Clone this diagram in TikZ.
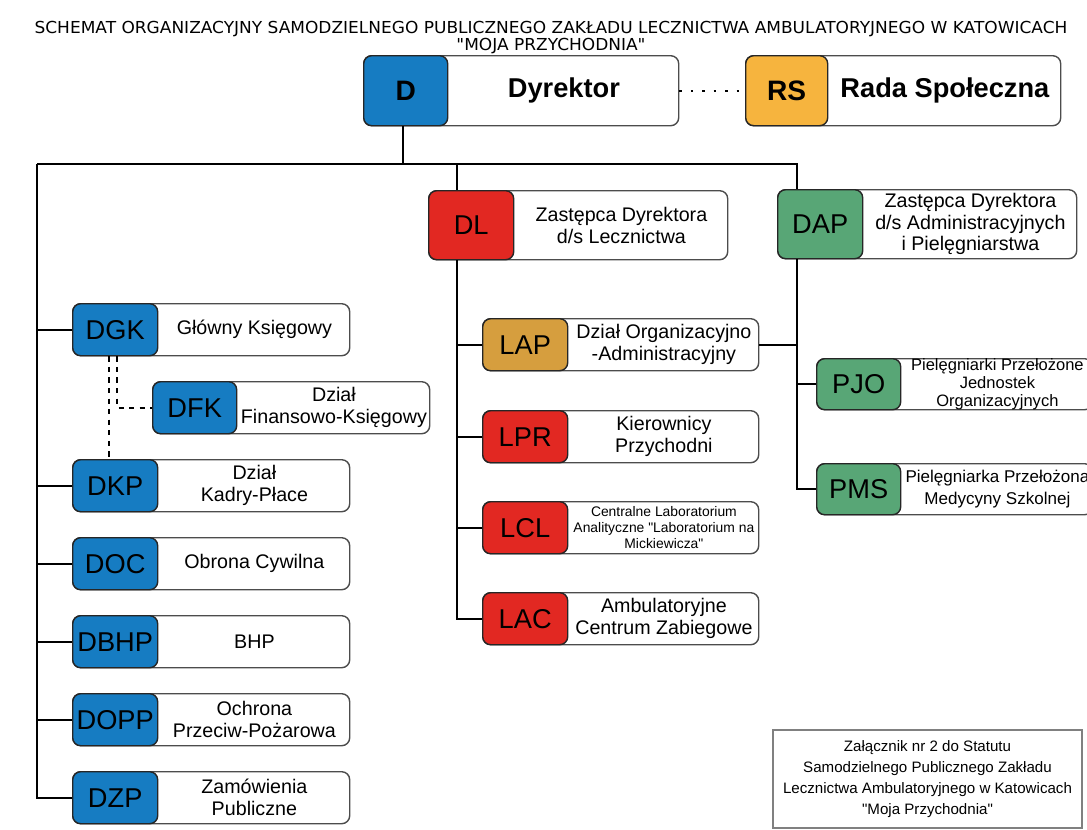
\documentclass[tikz,border=0pt]{standalone}
\usepackage{fontspec}
\setmainfont{Liberation Sans}
\newfontfamily\titlefont{DejaVu Sans}
\usetikzlibrary{calc}
\definecolor{dirblue}{RGB}{22,124,194}
\definecolor{medred}{RGB}{226,40,34}
\definecolor{admtan}{RGB}{214,158,62}
\definecolor{rsorange}{RGB}{246,180,62}
\definecolor{nursegreen}{RGB}{88,166,118}
\newcommand\pxu{0.02cm}
\newcommand\codefont{\fontsize{15.5}{16}\selectfont}
\newcommand\txtfont{\fontsize{11.2}{12.4}\selectfont}
\newcommand\headfont{\fontsize{15.5}{17}\selectfont\bfseries}
\tikzset{
  unitbox/.style={anchor=north west, draw=black!70, fill=white, rounded corners=0.16cm, line width=0.8pt, inner sep=0pt},
  codebox/.style={anchor=north west, draw=black!85, rounded corners=0.16cm, line width=0.8pt, inner sep=0pt, font=\codefont},
  txt/.style={align=center, inner sep=0pt},
  link/.style={line width=1.1pt},
  aside/.style={line width=1pt, dash pattern=on 3pt off 3pt},
}
% name, top-left, width, height, code width, colour, code, text font, text
\newcommand\orgunit[9]{%
  \node[unitbox, minimum width=#3*\pxu, minimum height=#4*\pxu] (#1) at #2 {};
  \node[codebox, fill=#6, minimum width=#5*\pxu, minimum height=#4*\pxu] (#1-c) at (#1.north west) {#7};
  \node[txt, font=#8] (#1-t) at ($(#1-c.east)!.5!(#1.east)$) {#9};}
\begin{document}
\begin{tikzpicture}[x=0.02cm, y=-0.02cm]
\useasboundingbox (0,0) rectangle (1087,829);
\node[inner sep=0pt] (title) at (551,38) {\resizebox{20.66cm}{\height}{\titlefont\fontsize{9.4}{9}\selectfont
  \begin{tabular}{@{}c@{}}SCHEMAT ORGANIZACYJNY SAMODZIELNEGO PUBLICZNEGO ZAKŁADU LECZNICTWA AMBULATORYJNEGO W KATOWICACH\\\textquotedbl MOJA PRZYCHODNIA\textquotedbl\end{tabular}}};
%
\orgunit{d}{(363,55)}{315}{70}{84}{dirblue}{\fontsize{16}{17}\selectfont\bfseries D}{\headfont}{Dyrektor}
\orgunit{rs}{(745,55)}{315}{70}{82}{rsorange}{\fontsize{16}{17}\selectfont\bfseries RS}{\headfont}{Rada Społeczna}
\orgunit{dl}{(428,190)}{299}{69}{85}{medred}{DL}{\txtfont}{Zastępca Dyrektora\\d/s Lecznictwa}
\orgunit{dap}{(777,189)}{299}{69}{85}{nursegreen}{DAP}{\fontsize{11.2}{12.2}\selectfont}{Zastępca Dyrektora\\d/s Administracyjnych\\i Pielęgniarstwa}
%
\orgunit{dgk}{(72,303)}{277}{52}{85}{dirblue}{DGK}{\txtfont}{Główny Księgowy}
\orgunit{dfk}{(152,381)}{277}{52}{84}{dirblue}{DFK}{\txtfont}{Dział\\Finansowo-Księgowy}
\orgunit{dkp}{(72,459)}{277}{52}{85}{dirblue}{DKP}{\txtfont}{Dział\\Kadry-Płace}
\orgunit{doc}{(72,537)}{277}{52}{85}{dirblue}{DOC}{\txtfont}{Obrona Cywilna}
\orgunit{dbhp}{(72,615)}{277}{52}{85}{dirblue}{DBHP}{\txtfont}{BHP}
\orgunit{dopp}{(72,693)}{277}{52}{85}{dirblue}{DOPP}{\txtfont}{Ochrona\\Przeciw-Pożarowa}
\orgunit{dzp}{(72,771)}{277}{52}{85}{dirblue}{DZP}{\txtfont}{Zamówienia\\Publiczne}
%
\orgunit{lap}{(482,318)}{276}{52}{85}{admtan}{LAP}{\txtfont}{Dział Organizacyjno\\-Administracyjny}
\orgunit{lpr}{(482,410)}{276}{52}{85}{medred}{LPR}{\txtfont}{Kierownicy\\Przychodni}
\orgunit{lcl}{(482,501)}{276}{52}{85}{medred}{LCL}{\fontsize{7.9}{9}\selectfont}{Centralne Laboratorium\\Analityczne \textquotedbl Laboratorium na\\Mickiewicza\textquotedbl}
\orgunit{lac}{(482,592)}{276}{52}{85}{medred}{LAC}{\txtfont}{Ambulatoryjne\\Centrum Zabiegowe}
%
\orgunit{pjo}{(816,358)}{276}{51}{84}{nursegreen}{PJO}{\fontsize{9.4}{10.2}\selectfont}{Pielęgniarki Przełożone\\Jednostek\\Organizacyjnych}
\orgunit{pms}{(816,463)}{276}{51}{84}{nursegreen}{PMS}{\fontsize{9.7}{12.4}\selectfont}{Pielęgniarka Przełożona\\Medycyny Szkolnej}
%
\node[draw=black!50, line width=0.8pt, minimum width=309*\pxu, minimum height=98*\pxu, align=center,
  font=\fontsize{8.6}{11.9}\selectfont] (annex) at (927.5,779)
  {Załącznik nr 2 do Statutu\\Samodzielnego Publicznego Zakładu\\Lecznictwa Ambulatoryjnego w Katowicach\\\textquotedbl Moja Przychodnia\textquotedbl};
%
\coordinate (lt) at (37,164);
\coordinate (ml) at (457,164);
\coordinate (rt) at (797,164);
\draw[link] ([xshift=-3*\pxu]d-c.south) -- ([xshift=-3*\pxu]d-c.south |- lt);
\draw[link] (lt) -- (rt) -- (rt |- dap-c.north);
\draw[link] (ml) -- (ml |- dl-c.north);
\draw[link, dash pattern=on 1.5pt off 5pt] (d.east) -- (rs-c.west);
%
\draw[link] (lt) |- (dzp-c.west);
\foreach \u in {dgk,dkp,doc,dbhp,dopp}
  \draw[link] (\u-c.west) -- (\u-c.west -| lt);
\draw[aside] ([xshift=-6*\pxu]dgk-c.south) -- ([xshift=-6*\pxu]dgk-c.south |- dkp-c.north);
\draw[aside] ([xshift=2*\pxu]dgk-c.south) |- (dfk-c.west);
%
\draw[link] (dl-c.south -| ml) |- (lac-c.west);
\foreach \u in {lap,lpr,lcl}
  \draw[link] (\u-c.west) -- (\u-c.west -| ml);
\draw[link] (lap.east) -- (lap.east -| rt);
%
\draw[link] (dap-c.south -| rt) |- (pms-c.west);
\draw[link] (pjo-c.west) -- (pjo-c.west -| rt);
\end{tikzpicture}
\end{document}
